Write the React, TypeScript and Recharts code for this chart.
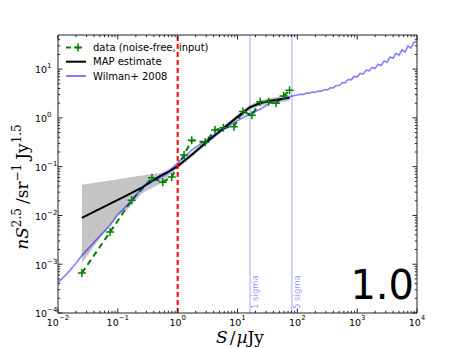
import React from "react";
import { ComposedChart, Line, Area, XAxis, YAxis, ReferenceLine } from "recharts";

// Wilman+ 2008 model curve (S in µJy, n S^2.5)
const wilmanS = [0.01, 0.014, 0.02, 0.025, 0.04, 0.05, 0.074, 0.1, 0.17, 0.27, 0.35, 0.51, 0.66, 1.0, 1.8, 2.8, 4.5, 9.8, 16, 24, 35, 58, 81, 100, 112, 126, 141, 158, 178, 200, 224, 251, 282, 316, 355, 398, 447, 501, 562, 631, 708, 794, 891, 1000, 1122, 1259, 1413, 1585, 1778, 1995, 2239, 2512, 2818, 3162, 3548, 3981, 4467, 5012, 5623, 6310, 7079, 7943, 8913, 10000];
const wilmanN = [4.2e-4, 6.3e-4, 1.05e-3, 1.5e-3, 2.8e-3, 3.8e-3, 6.3e-3, 1.05e-2, 2.0e-2, 4.0e-2, 4.8e-2, 6.0e-2, 7.1e-2, 0.12, 0.23, 0.33, 0.47, 0.87, 1.2, 1.5, 2.0, 2.45, 2.8, 2.95, 3.05, 3.02, 3.24, 3.2, 3.39, 3.31, 3.55, 3.51, 3.82, 3.76, 4.14, 4.1, 4.62, 4.6, 5.25, 5.25, 6.1, 6.03, 7.08, 6.92, 8.13, 7.94, 9.55, 9.23, 10.8, 10.35, 12.6, 11.9, 14.6, 13.8, 17.6, 16.6, 21.1, 19.3, 24.8, 22.4, 29.9, 26.9, 35.9, 35.5];

// data (noise-free, input)
const dataS = [0.0251, 0.0741, 0.17, 0.372, 0.562, 0.794, 1.28, 1.72, 2.88, 4.22, 5.82, 8.71, 12.3, 17.4, 24.0, 33.1, 44.2, 58.9, 74.1];
const dataN = [6.6e-4, 4.57e-3, 0.0204, 0.0589, 0.0479, 0.0617, 0.174, 0.347, 0.316, 0.562, 0.631, 0.661, 1.35, 1.135, 2.14, 2.14, 2.0, 2.82, 3.67];

// MAP estimate with its credible band
const mapS = [0.0251, 0.0389, 0.1, 0.141, 0.251, 0.513, 0.708, 1, 1.78, 3.16, 10, 15.8, 22.4, 31.6, 50.1, 74.1];
const mapN = [0.00891, 0.01175, 0.0209, 0.0257, 0.0372, 0.0646, 0.0794, 0.102, 0.182, 0.331, 1.047, 1.62, 1.95, 2.19, 2.4, 2.57];
const mapLo = [0.00105, 0.00224, 0.01, 0.0126, 0.0282, 0.0447, 0.066, 0.0912, 0.162, 0.295, 0.933, 1.445, 1.72, 1.905, 2.09, 2.24];
const mapHi = [0.0427, 0.0462, 0.055, 0.0589, 0.066, 0.0741, 0.0891, 0.115, 0.204, 0.372, 1.175, 1.82, 2.21, 2.51, 2.75, 2.95];

const threshold = 1;
const sigma1 = 16.2;
const sigma5 = 81;

const xMajor = [0.01, 0.1, 1, 10, 100, 1000, 10000];
const yMajor = [1e-4, 1e-3, 1e-2, 1e-1, 1, 10];
const minorMult = [2, 3, 4, 5, 6, 7, 8, 9];
const xDomain = [0.01, 10000];
const yDomain = [1e-4, 50];

const buildTicks = (majors: number[], max: number) => {
  const t: number[] = [];
  majors.forEach((m) => {
    t.push(m);
    minorMult.forEach((k) => {
      const v = m * k;
      if (v < max) t.push(v);
    });
  });
  return t.filter((v) => v <= max);
};
const xTicks = buildTicks(xMajor, xDomain[1]);
const yTicks = buildTicks(yMajor, yDomain[1]);

const wilmanData = wilmanS.map((s, i) => ({ s, n: wilmanN[i] }));
const inputData = dataS.map((s, i) => ({ s, n: dataN[i] }));
const mapData = mapS.map((s, i) => ({ s, n: mapN[i], band: [mapLo[i], mapHi[i]] }));

const AX = "#222";
const TICKFONT = "DejaVu Sans";
const isMajor = (v: number) => Math.abs(Math.log10(v) - Math.round(Math.log10(v))) < 1e-6;
const expLabel = (v: number) => {
  const e = Math.round(Math.log10(v));
  return e < 0 ? "\u2212" + String(-e) : String(e);
};
const MAJ = 4.5;
const MIN = 2.2;

const BottomTick = (p: any) => {
  const { x, y, payload } = p;
  const v = payload.value;
  const maj = isMajor(v);
  return (
    <g>
      <line x1={x} x2={x} y1={y} y2={y - (maj ? MAJ : MIN)} stroke={AX} strokeWidth={1} />
      {maj && (
        <text x={x} y={y + 12.5} textAnchor="middle" fontFamily={TICKFONT} fontSize={9.5} fill="#000">
          10<tspan dy={-6} fontSize={7}>{expLabel(v)}</tspan>
        </text>
      )}
    </g>
  );
};
const TopTick = (p: any) => {
  const { x, y, payload } = p;
  const maj = isMajor(payload.value);
  return <line x1={x} x2={x} y1={y} y2={y + (maj ? MAJ : MIN)} stroke={AX} strokeWidth={1} />;
};
const LeftTick = (p: any) => {
  const { x, y, payload } = p;
  const v = payload.value;
  const maj = isMajor(v);
  return (
    <g>
      <line x1={x} x2={x + (maj ? MAJ : MIN)} y1={y} y2={y} stroke={AX} strokeWidth={1} />
      {maj && (
        <text x={35} y={y + 4.3} textAnchor="start" fontFamily={TICKFONT} fontSize={9.5} fill="#000">
          10<tspan dy={-5} fontSize={7}>{expLabel(v)}</tspan>
        </text>
      )}
    </g>
  );
};
const RightTick = (p: any) => {
  const { x, y, payload } = p;
  const maj = isMajor(payload.value);
  return <line x1={x} x2={x - (maj ? MAJ : MIN)} y1={y} y2={y} stroke={AX} strokeWidth={1} />;
};

const PlusDot = (p: any) => {
  const { cx, cy } = p;
  if (cx == null || cy == null) return <g />;
  const r = 4;
  return (
    <path
      d={`M${cx - r},${cy}H${cx + r}M${cx},${cy - r}V${cy + r}`}
      stroke="#008000"
      strokeWidth={1.5}
      fill="none"
    />
  );
};

const SigmaLabel = (p: any) => {
  const vb = p.viewBox || {};
  const x = (vb.x ?? 0) + 8;
  const y = (vb.y ?? 0) + (vb.height ?? 0) - 4;
  return (
    <text
      x={x}
      y={y}
      transform={`rotate(-90 ${x} ${y})`}
      fontFamily={TICKFONT}
      fontSize={8.5}
      fill="#0000ff"
      fillOpacity={0.45}
      textAnchor="start"
    >
      {p.text}
    </text>
  );
};

export default function App() {
  return (
    <div style={{ position: "absolute", left: 0, top: 0, width: 463, height: 348, background: "#fff" }}>
      <ComposedChart width={463} height={348} margin={{ top: 34, right: 45, bottom: 5, left: 8 }}>
        <XAxis
          xAxisId="b"
          type="number"
          dataKey="s"
          scale="log"
          domain={xDomain}
          allowDataOverflow
          ticks={xTicks}
          interval={0}
          tick={(p: any) => <BottomTick {...p} />}
          tickLine={false}
          tickSize={0}
          tickMargin={0}
          height={30}
          axisLine={{ stroke: AX, strokeWidth: 1 }}
        />
        <XAxis
          xAxisId="t"
          orientation="top"
          type="number"
          dataKey="s"
          scale="log"
          domain={xDomain}
          allowDataOverflow
          ticks={xTicks}
          interval={0}
          tick={(p: any) => <TopTick {...p} />}
          tickLine={false}
          tickSize={0}
          tickMargin={0}
          height={1}
          axisLine={{ stroke: AX, strokeWidth: 1 }}
        />
        <YAxis
          yAxisId="l"
          type="number"
          dataKey="n"
          scale="log"
          domain={yDomain}
          allowDataOverflow
          ticks={yTicks}
          interval={0}
          tick={(p: any) => <LeftTick {...p} />}
          tickLine={false}
          tickSize={0}
          tickMargin={0}
          width={50}
          axisLine={{ stroke: AX, strokeWidth: 1 }}
        />
        <YAxis
          yAxisId="r"
          orientation="right"
          type="number"
          dataKey="n"
          scale="log"
          domain={yDomain}
          allowDataOverflow
          ticks={yTicks}
          interval={0}
          tick={(p: any) => <RightTick {...p} />}
          tickLine={false}
          tickSize={0}
          tickMargin={0}
          width={1}
          axisLine={{ stroke: AX, strokeWidth: 1 }}
        />
        <Area
          xAxisId="b"
          yAxisId="l"
          data={mapData}
          dataKey="band"
          type="linear"
          fill="#c4c4c4"
          fillOpacity={1}
          stroke="none"
          isAnimationActive={false}
          activeDot={false}
        />
        <Line
          xAxisId="b"
          yAxisId="l"
          data={inputData}
          dataKey="n"
          type="linear"
          stroke="#008000"
          strokeWidth={2}
          strokeDasharray="6 4"
          dot={(p: any) => <PlusDot key={`d${p.index}`} {...p} />}
          activeDot={false}
          isAnimationActive={false}
        />
        <Line
          xAxisId="b"
          yAxisId="l"
          data={mapData}
          dataKey="n"
          type="linear"
          stroke="#000"
          strokeWidth={2}
          dot={false}
          activeDot={false}
          isAnimationActive={false}
        />
        <Line
          xAxisId="b"
          yAxisId="l"
          data={wilmanData}
          dataKey="n"
          type="linear"
          stroke="#0000ff"
          strokeOpacity={0.5}
          strokeWidth={1.6}
          dot={false}
          activeDot={false}
          isAnimationActive={false}
        />
        <ReferenceLine xAxisId="b" yAxisId="l" x={threshold} stroke="#ff0000" strokeWidth={2} strokeDasharray="5 3" />
        <ReferenceLine
          xAxisId="b"
          yAxisId="l"
          x={sigma1}
          stroke="#0000ff"
          strokeOpacity={0.22}
          strokeWidth={1.6}
          label={<SigmaLabel text="1 sigma" />}
        />
        <ReferenceLine
          xAxisId="b"
          yAxisId="l"
          x={sigma5}
          stroke="#0000ff"
          strokeOpacity={0.22}
          strokeWidth={1.6}
          label={<SigmaLabel text="5 sigma" />}
        />
      </ComposedChart>
      <svg
        width={463}
        height={348}
        style={{ position: "absolute", left: 0, top: 0, pointerEvents: "none" }}
      >
        {/* legend */}
        <line x1={66} x2={71} y1={47.5} y2={47.5} stroke="#008000" strokeWidth={2} />
        <line x1={75} x2={81} y1={47.5} y2={47.5} stroke="#008000" strokeWidth={2} />
        <path d="M74,47.5H82M78,43.5V51.5" stroke="#008000" strokeWidth={1.5} />
        <text x={93} y={51} fontFamily={TICKFONT} fontSize={10} fill="#000">data (noise-free, input)</text>
        <line x1={66} x2={86} y1={61.7} y2={61.7} stroke="#000" strokeWidth={2} />
        <text x={93} y={65.2} fontFamily={TICKFONT} fontSize={10} fill="#000">MAP estimate</text>
        <line x1={66} x2={86} y1={76} y2={76} stroke="#0000ff" strokeOpacity={0.5} strokeWidth={2} />
        <text x={93} y={79.5} fontFamily={TICKFONT} fontSize={10} fill="#000">Wilman+ 2008</text>
        {/* big label */}
        <text x={414} y={299} textAnchor="end" fontFamily={TICKFONT} fontSize={40} fill="#000">1.0</text>
        {/* axis labels */}
        <text x={240} y={343} textAnchor="middle" fontFamily="DejaVu Serif" fontSize={17} fill="#000">
          <tspan fontStyle="italic">S</tspan>
          <tspan dx={2}>/</tspan>
          <tspan dx={1} fontStyle="italic">µ</tspan>
          <tspan>Jy</tspan>
        </text>
        <text
          transform="rotate(-90)"
          x={-187}
          y={28}
          textAnchor="middle"
          fontFamily="DejaVu Serif"
          fontSize={17}
          fill="#000"
        >
          <tspan fontStyle="italic">nS</tspan>
          <tspan dy={-7} fontSize={12}>2.5</tspan>
          <tspan dy={7} dx={4}>/sr</tspan>
          <tspan dy={-7} fontSize={12}>{"\u22121"}</tspan>
          <tspan dy={7} dx={4}>Jy</tspan>
          <tspan dy={-7} fontSize={12}>1.5</tspan>
        </text>
      </svg>
    </div>
  );
}
